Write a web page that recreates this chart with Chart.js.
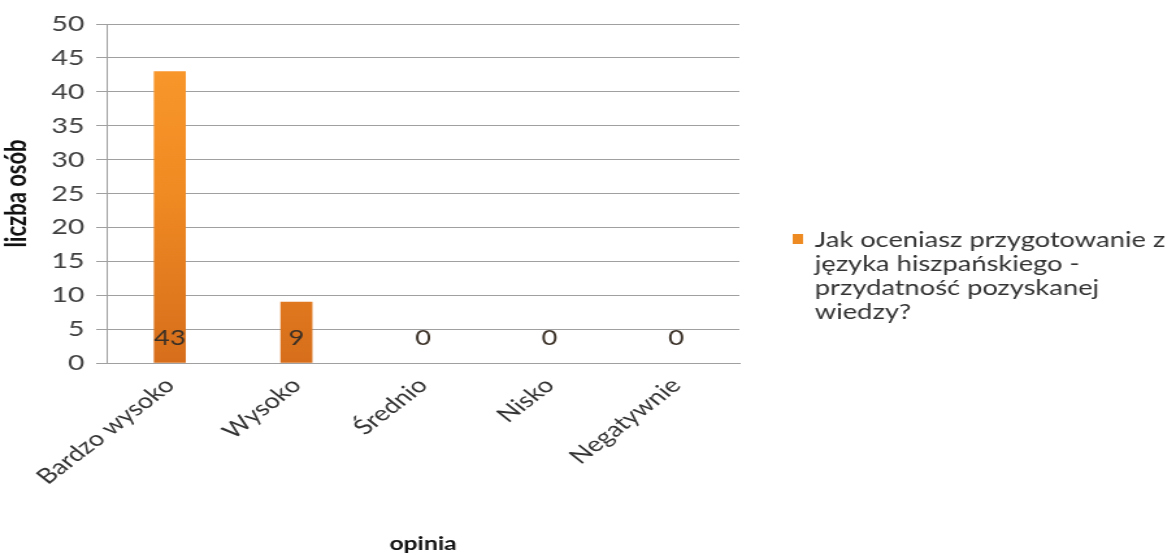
<!DOCTYPE html>
<html lang="pl">
<head>
<meta charset="utf-8">
<script src="https://cdn.jsdelivr.net/npm/chart.js@4/dist/chart.umd.min.js"></script>
<style>
  html, body { margin: 0; padding: 0; background: #ffffff; overflow: hidden; }
  #wrap {
    width: 905px; height: 555px; position: relative;
    transform: scaleX(1.29945); transform-origin: 0 0;
  }
</style>
</head>
<body>
<div id="wrap"><canvas id="c" width="905" height="555"></canvas></div>
<script>
// Odpowiedzi ankiety
const categories = ['Bardzo wysoko', 'Wysoko', 'Średnio', 'Nisko', 'Negatywnie'];
const counts = [43, 9, 0, 0, 0];
const seriesLabel = 'Jak oceniasz przygotowanie z języka hiszpańskiego - przydatność pozyskanej wiedzy?';
const legendLines = ['Jak oceniasz przygotowanie z', 'języka hiszpańskiego -', 'przydatność pozyskanej', 'wiedzy?'];
const yTitle = 'liczba osób';
const xTitle = 'opinia';
const yMax = 50;
const yStep = 5;

const FONT = 'Lato, "Open Sans", sans-serif';
const ctx = document.getElementById('c').getContext('2d');

// Pionowy gradient słupków: jaśniejszy u góry, ciemniejszy u podstawy
function barColor(context) {
  const chart = context.chart;
  const area = chart.chartArea;
  if (context.raw === 0) return 'rgba(0,0,0,0)';
  if (!area) return '#F39021';
  const g = chart.ctx.createLinearGradient(0, area.top, 0, area.bottom);
  g.addColorStop(0, '#FB9B2E');
  g.addColorStop(0.5, '#F08A22');
  g.addColorStop(1, '#D66E1C');
  return g;
}

// Etykiety wartości przy podstawie słupków
const baseLabels = {
  id: 'baseLabels',
  afterDatasetsDraw(chart) {
    const c = chart.ctx;
    const meta = chart.getDatasetMeta(0);
    const yBase = chart.scales.y.getPixelForValue(0);
    c.save();
    c.font = '21px ' + FONT;
    c.fillStyle = '#3a3026';
    c.textAlign = 'center';
    c.textBaseline = 'alphabetic';
    meta.data.forEach((bar, i) => {
      c.fillText(String(counts[i]), bar.x, yBase - 18);
    });
    c.restore();
  }
};

// Legenda z zawijanym tekstem po prawej stronie
const sideLegend = {
  id: 'sideLegend',
  afterDraw(chart) {
    const c = chart.ctx;
    const x0 = 610, y0 = 240;
    c.save();
    c.fillStyle = '#EE8A22';
    c.fillRect(x0, y0 - 6, 8, 10);
    c.font = '21px ' + FONT;
    c.fillStyle = '#333333';
    c.textAlign = 'left';
    c.textBaseline = 'middle';
    legendLines.forEach((line, i) => {
      c.fillText(line, x0 + 17, y0 + i * 24);
    });
    c.restore();
  }
};

new Chart(ctx, {
  type: 'bar',
  data: {
    labels: categories,
    datasets: [{
      label: seriesLabel,
      data: counts,
      backgroundColor: barColor,
      borderWidth: 0,
      barThickness: 24
    }]
  },
  options: {
    responsive: false,
    animation: false,
    layout: { padding: { top: 24, right: 336, left: 0, bottom: 0 } },
    plugins: {
      legend: { display: false },
      tooltip: { enabled: false },
      title: { display: false }
    },
    scales: {
      x: {
        grid: { display: false, drawTicks: false },
        border: { display: true, color: '#a0a0a0', width: 1 },
        ticks: {
          maxRotation: 45,
          minRotation: 45,
          color: '#333333',
          font: { family: FONT, size: 21 },
          padding: 10
        },
        title: {
          display: true,
          text: xTitle,
          color: '#111111',
          font: { family: FONT, size: 19, weight: 'bold' },
          padding: { top: 0, bottom: 0 }
        },
        afterFit(scale) { scale.height = 192; }
      },
      y: {
        min: 0,
        max: yMax,
        ticks: {
          stepSize: yStep,
          color: '#404040',
          font: { family: FONT, size: 22 },
          padding: 9
        },
        grid: {
          color: '#a0a0a0',
          lineWidth: 1,
          tickLength: 8,
          drawTicks: true
        },
        border: { display: true, color: '#a0a0a0', width: 1 },
        title: {
          display: true,
          text: yTitle,
          color: '#111111',
          font: { family: FONT, size: 22, weight: 'bold' },
          padding: { top: 0, bottom: 0 }
        },
        afterFit(scale) { scale.width = 82; }
      }
    }
  },
  plugins: [baseLabels, sideLegend]
});
</script>
</body>
</html>
